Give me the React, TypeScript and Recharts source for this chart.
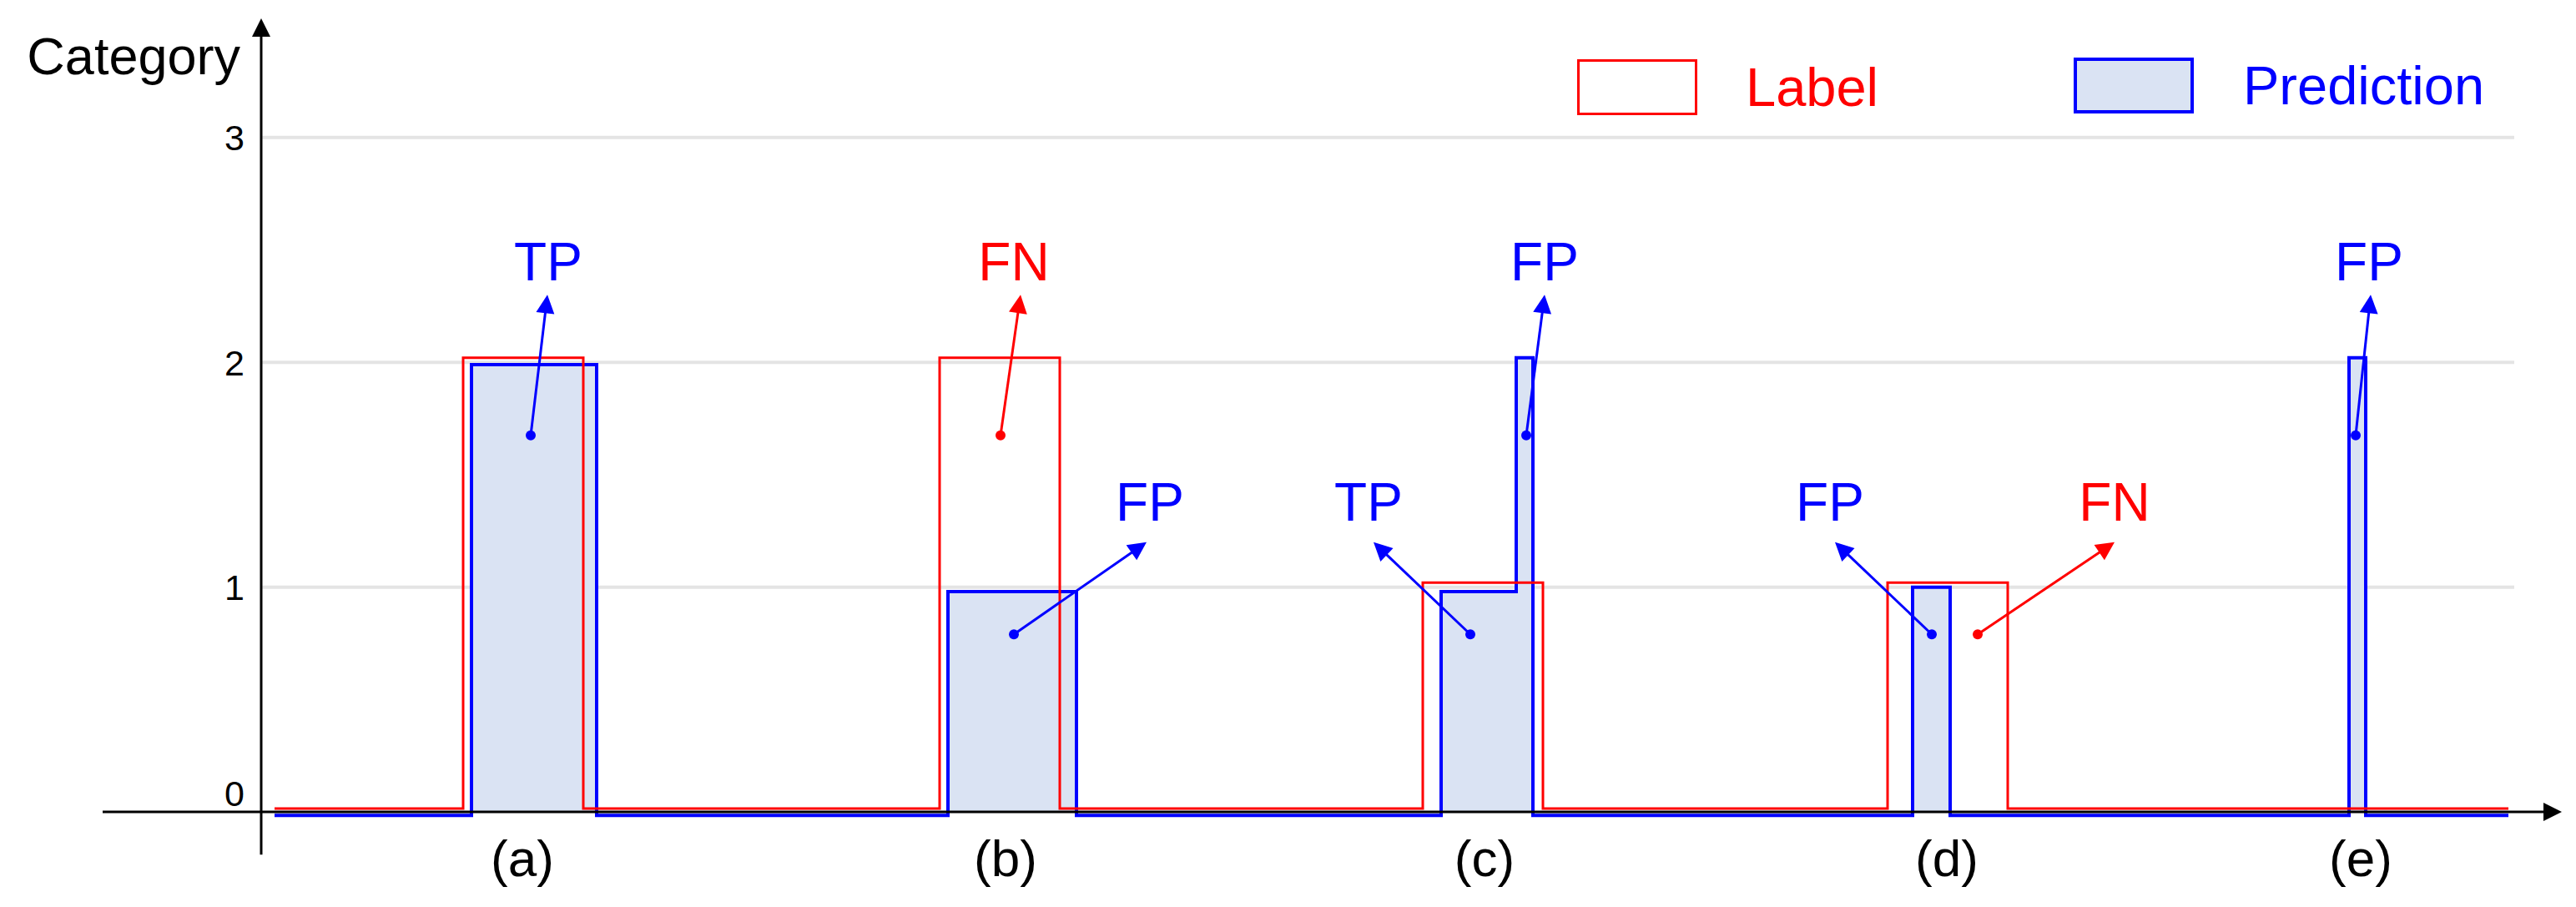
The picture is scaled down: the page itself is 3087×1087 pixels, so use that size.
import React from 'react';
import { ComposedChart, Area, Line, XAxis, YAxis, CartesianGrid, ReferenceLine, ReferenceDot, Legend } from 'recharts';

const BLUE = '#0000ff';
const RED = '#ff0000';
const FILL = '#dae3f3';

// label (ground truth) step signal
const labelT = [1.6, 24.2, 38.6, 81.3, 95.7, 139.2, 153.6, 194.9, 209.3, 269.3];
const labelV = [0.015, 2.02, 0.015, 2.02, 0.015, 1.02, 0.015, 1.02, 0.015, 0.015];

// prediction step signal
const predT = [1.6, 25.2, 40.2, 82.3, 97.7, 141.4, 150.4, 152.4, 197.9, 202.4, 250.2, 252.2, 269.3];
const predV = [-0.015, 1.99, -0.015, 0.98, -0.015, 0.98, 2.02, -0.015, 1.0, -0.015, 2.02, -0.015, -0.015];

// events on the x axis
const eventT = [31.3, 89.2, 146.6, 202.0, 251.6];
const eventNames = ['(a)', '(b)', '(c)', '(d)', '(e)'];

const yTicks = [0, 1, 2, 3];
const gridY = [1, 2, 3];

// annotations: dot -> arrow tip -> text
const annLabels = ['TP', 'FN', 'FP', 'TP', 'FP', 'FP', 'FN', 'FP'];
const annColors = [BLUE, RED, BLUE, BLUE, BLUE, BLUE, RED, BLUE];
const dotT = [32.3, 88.6, 90.2, 144.9, 151.6, 200.2, 205.7, 251.0];
const dotV = [1.675, 1.675, 0.79, 0.79, 1.675, 0.79, 0.79, 1.675];
const tipT = [34.3, 91.0, 106.1, 133.3, 153.8, 188.6, 222.1, 252.8];
const tipV = [2.3, 2.3, 1.2, 1.2, 2.3, 1.2, 1.2, 2.3];
const textT = [34.4, 90.2, 106.5, 132.7, 153.8, 188.0, 222.1, 252.6];
const textV = [2.45, 2.45, 1.38, 1.38, 2.45, 1.38, 1.38, 2.45];

const labelData = labelT.map((t, i) => ({ t, v: labelV[i] }));
const predData = predT.map((t, i) => ({ t, v: predV[i] }));

const arrow = (color: string, width: number, head: number) => (props: any) => {
  const { x1, y1, x2, y2 } = props;
  const dx = x2 - x1;
  const dy = y2 - y1;
  const len = Math.hypot(dx, dy) || 1;
  const ux = dx / len;
  const uy = dy / len;
  const bx = x2 - ux * head;
  const by = y2 - uy * head;
  const px = -uy * head * 0.5;
  const py = ux * head * 0.5;
  return (
    <g>
      <line x1={x1} y1={y1} x2={bx + ux * 2} y2={by + uy * 2} stroke={color} strokeWidth={width} />
      <polygon points={`${x2},${y2} ${bx + px},${by + py} ${bx - px},${by - py}`} fill={color} />
    </g>
  );
};

const YTick = (props: any) => {
  const { x, y, payload } = props;
  const shift = payload.value === 0 ? -23 : 0;
  return (
    <text x={x - 20} y={y + shift} dy="0.36em" textAnchor="end" fontSize={43} fill="#000">
      {payload.value}
    </text>
  );
};

const XTick = (props: any) => {
  const { x, y, payload } = props;
  return (
    <text x={x} y={y + 23} textAnchor="middle" fontSize={62} fill="#000">
      {eventNames[eventT.indexOf(payload.value)]}
    </text>
  );
};

const CategoryLabel = (props: any) => {
  const vb = props.viewBox || { x: 0, y: 30, width: 313 };
  return (
    <text x={vb.x + vb.width - 25} y={vb.y + 59} textAnchor="end" fontSize={63} fill="#000">
      Category
    </text>
  );
};

const swatch: Record<string, any> = {
  Label: { border: `3px solid ${RED}`, background: '#fff', top: 11, width: 620, gap: 58 },
  Prediction: { border: `4px solid ${BLUE}`, background: FILL, top: 7, width: 620, gap: 59 },
};

const renderLegend = (props: any) => {
  const items = [...(props.payload || [])].sort((a: any, b: any) => (a.value < b.value ? -1 : 1));
  return (
    <div style={{ display: 'flex' }}>
      {items.map((entry: any) => {
        const s = swatch[entry.value] || {};
        return (
          <div key={entry.value} style={{ display: 'flex', alignItems: 'center', width: s.width, marginTop: s.top }}>
            <div style={{ width: 144, height: 67, boxSizing: 'border-box', border: s.border, background: s.background }} />
            <span style={{ marginLeft: s.gap, fontSize: 65, lineHeight: 1, color: entry.color }}>{entry.value}</span>
          </div>
        );
      })}
    </div>
  );
};

export default function App() {
  return (
    <div style={{ position: 'absolute', left: 0, top: 0, width: 3087, height: 1087, background: '#fff', fontFamily: '"Liberation Sans", Arial, sans-serif' }}>
      <ComposedChart width={3087} height={1087} margin={{ top: 30, right: 74, bottom: 0, left: 0 }}>
        <CartesianGrid horizontal vertical={false} horizontalValues={gridY} stroke="#e4e4e4" strokeWidth={4} />
        <XAxis
          dataKey="t"
          type="number"
          domain={[0, 270]}
          ticks={eventT}
          height={60}
          axisLine={false}
          tickLine={false}
          tickSize={0}
          tickMargin={0}
          tick={<XTick />}
          allowDataOverflow
        />
        <YAxis
          type="number"
          domain={[-0.2, 3.5]}
          ticks={yTicks}
          width={313}
          axisLine={false}
          tickLine={false}
          tickSize={0}
          tickMargin={0}
          tick={<YTick />}
          label={CategoryLabel}
          allowDataOverflow
        />
        <Legend
          layout="vertical"
          align="center"
          verticalAlign="middle"
          wrapperStyle={{ left: 1890, top: 60, width: 1190 }}
          content={renderLegend}
        />
        <Area
          data={predData}
          dataKey="v"
          name="Prediction"
          type="stepAfter"
          stroke={BLUE}
          strokeWidth={4}
          fill={FILL}
          fillOpacity={1}
          baseValue={0}
          dot={false}
          activeDot={false}
          isAnimationActive={false}
        />
        <Line
          data={labelData}
          dataKey="v"
          name="Label"
          type="stepAfter"
          stroke={RED}
          strokeWidth={3}
          dot={false}
          activeDot={false}
          isAnimationActive={false}
        />
        {/* axes with arrow heads */}
        <ReferenceLine
          segment={[{ x: -19, y: 0 }, { x: 275.7, y: 0 }]}
          ifOverflow="visible"
          shape={arrow('#000', 3, 22)}
        />
        <ReferenceLine
          segment={[{ x: 0, y: -0.19 }, { x: 0, y: 3.53 }]}
          ifOverflow="visible"
          shape={arrow('#000', 3, 22)}
        />
        {annLabels.map((_, i) => (
          <ReferenceLine
            key={`arr-${i}`}
            segment={[{ x: dotT[i], y: dotV[i] }, { x: tipT[i], y: tipV[i] }]}
            ifOverflow="visible"
            shape={arrow(annColors[i], 3, 22)}
          />
        ))}
        {annLabels.map((_, i) => (
          <ReferenceDot key={`dot-${i}`} x={dotT[i]} y={dotV[i]} r={6} fill={annColors[i]} stroke="none" ifOverflow="visible" />
        ))}
        {annLabels.map((txt, i) => (
          <ReferenceDot
            key={`txt-${i}`}
            x={textT[i]}
            y={textV[i]}
            r={1}
            ifOverflow="visible"
            shape={(p: any) => (
              <text x={p.cx} y={p.cy} dy="0.36em" textAnchor="middle" fontSize={64} fill={annColors[i]}>
                {txt}
              </text>
            )}
          />
        ))}
      </ComposedChart>
    </div>
  );
}
